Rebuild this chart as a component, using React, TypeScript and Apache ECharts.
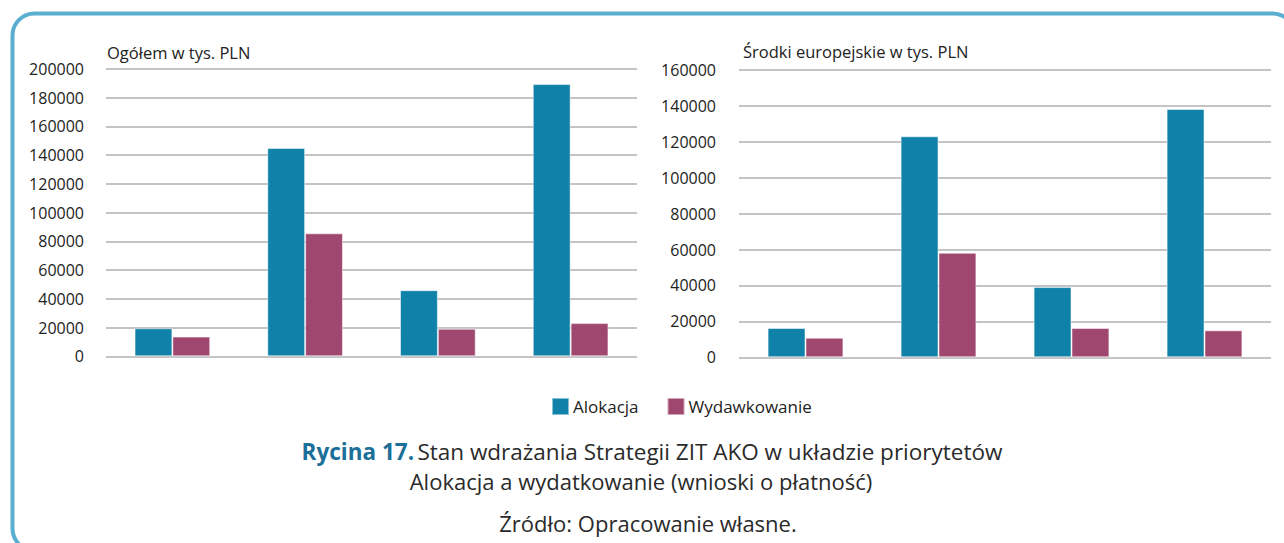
import React, { useEffect, useRef } from "react";
import * as echarts from "echarts";

const categories = ["Priorytet 1", "Priorytet 2", "Priorytet 3", "Priorytet 4"];
const seriesNames = ["Alokacja", "Wydawkowanie"];
const ogolemAlokacja = [19500, 145000, 46000, 189500];
const ogolemWydawkowanie = [13700, 85600, 19200, 23100];
const euAlokacja = [16300, 123100, 39100, 138300];
const euWydawkowanie = [10900, 58200, 16300, 15000];
const leftTitle = "Ogółem w tys. PLN";
const rightTitle = "Środki europejskie w tys. PLN";
const captionLabel = "Rycina 17.";
const captionLine1 = "Stan wdrażania Strategii ZIT AKO w układzie priorytetów";
const captionLine2 = "Alokacja a wydatkowanie (wnioski o płatność)";
const sourceLine = "Źródło: Opracowanie własne.";

const FONT = "'Open Sans', 'Noto Sans', sans-serif";
const BLUE = "#1081a8";
const PLUM = "#a0476f";
const GRID = "#b0b0b0";

export default function App() {
  const ref = useRef<HTMLDivElement>(null);
  useEffect(() => {
    if (!ref.current) return;
    const chart = echarts.init(ref.current, null, { renderer: "svg" });
    const yAxisCommon = {
      type: "value" as const,
      min: 0,
      interval: 20000,
      axisLine: { show: false },
      axisTick: { show: false },
      axisLabel: { color: "#222", fontSize: 16, fontFamily: FONT, margin: 22, formatter: (v: number) => String(v) },
      splitLine: { lineStyle: { color: GRID, width: 1.5 } },
    };
    const xAxisCommon = {
      type: "category" as const,
      data: categories,
      axisLine: { show: false },
      axisTick: { show: false },
      axisLabel: { show: false },
    };
    const barCommon = {
      type: "bar" as const,
      barGap: "0%",
      barCategoryGap: "43%",
    };
    const border = { borderColor: "rgba(255,255,255,0.5)", borderWidth: 1 };
    chart.setOption({
      animation: false,
      textStyle: { fontFamily: FONT },
      grid: [
        { left: 106, top: 69, width: 531, height: 287.3 },
        { left: 739, top: 70, width: 532, height: 287.3 },
      ],
      xAxis: [
        { ...xAxisCommon, gridIndex: 0 },
        { ...xAxisCommon, gridIndex: 1 },
      ],
      yAxis: [
        { ...yAxisCommon, gridIndex: 0, max: 200000 },
        { ...yAxisCommon, gridIndex: 1, max: 160000, axisLabel: { ...yAxisCommon.axisLabel, margin: 23 } },
      ],
      legend: {
        left: 551,
        top: 397,
        padding: 0,
        itemWidth: 17,
        itemHeight: 17,
        itemGap: 28,
        icon: "rect",
        data: seriesNames,
        textStyle: { color: "#222", fontSize: 17, fontFamily: FONT, padding: [0, 0, 0, -1] },
      },
      series: [
        { ...barCommon, name: seriesNames[0], xAxisIndex: 0, yAxisIndex: 0, data: ogolemAlokacja, itemStyle: { color: BLUE, ...border } },
        { ...barCommon, name: seriesNames[1], xAxisIndex: 0, yAxisIndex: 0, data: ogolemWydawkowanie, itemStyle: { color: PLUM, ...border } },
        { ...barCommon, name: seriesNames[0], xAxisIndex: 1, yAxisIndex: 1, data: euAlokacja, itemStyle: { color: BLUE, ...border } },
        { ...barCommon, name: seriesNames[1], xAxisIndex: 1, yAxisIndex: 1, data: euWydawkowanie, itemStyle: { color: PLUM, ...border } },
      ],
      graphic: [
        {
          type: "rect",
          shape: { x: 12.5, y: 13.5, width: 1282, height: 537, r: 22 },
          style: { fill: "none", stroke: "#5aafd1", lineWidth: 4 },
          silent: true,
        },
        {
          type: "text",
          x: 107,
          y: 52,
          style: { text: leftTitle, fill: "#222", font: `16.5px ${FONT}`, textVerticalAlign: "middle" },
        },
        {
          type: "text",
          x: 743,
          y: 51,
          style: { text: rightTitle, fill: "#222", font: `16.5px ${FONT}`, textVerticalAlign: "middle" },
        },
        {
          type: "text",
          x: 652,
          y: 451,
          style: {
            text: `{b|${captionLabel}} {n|${captionLine1}}`,
            textAlign: "center",
            textVerticalAlign: "middle",
            rich: {
              b: { fontSize: 22.5, fontWeight: "bold", fill: "#1b6f98", fontFamily: FONT },
              n: { fontSize: 22.5, fill: "#2a2a2a", fontFamily: FONT },
            },
          },
        },
        {
          type: "text",
          x: 641,
          y: 481,
          style: { text: captionLine2, fill: "#2a2a2a", font: `22px ${FONT}`, textAlign: "center", textVerticalAlign: "middle" },
        },
        {
          type: "text",
          x: 648,
          y: 523,
          style: { text: sourceLine, fill: "#2a2a2a", font: `22px ${FONT}`, textAlign: "center", textVerticalAlign: "middle" },
        },
      ],
    });
    return () => chart.dispose();
  }, []);
  return (
    <div
      ref={ref}
      style={{ position: "fixed", left: 0, top: 0, width: 1284, height: 543, background: "#fff" }}
    />
  );
}
